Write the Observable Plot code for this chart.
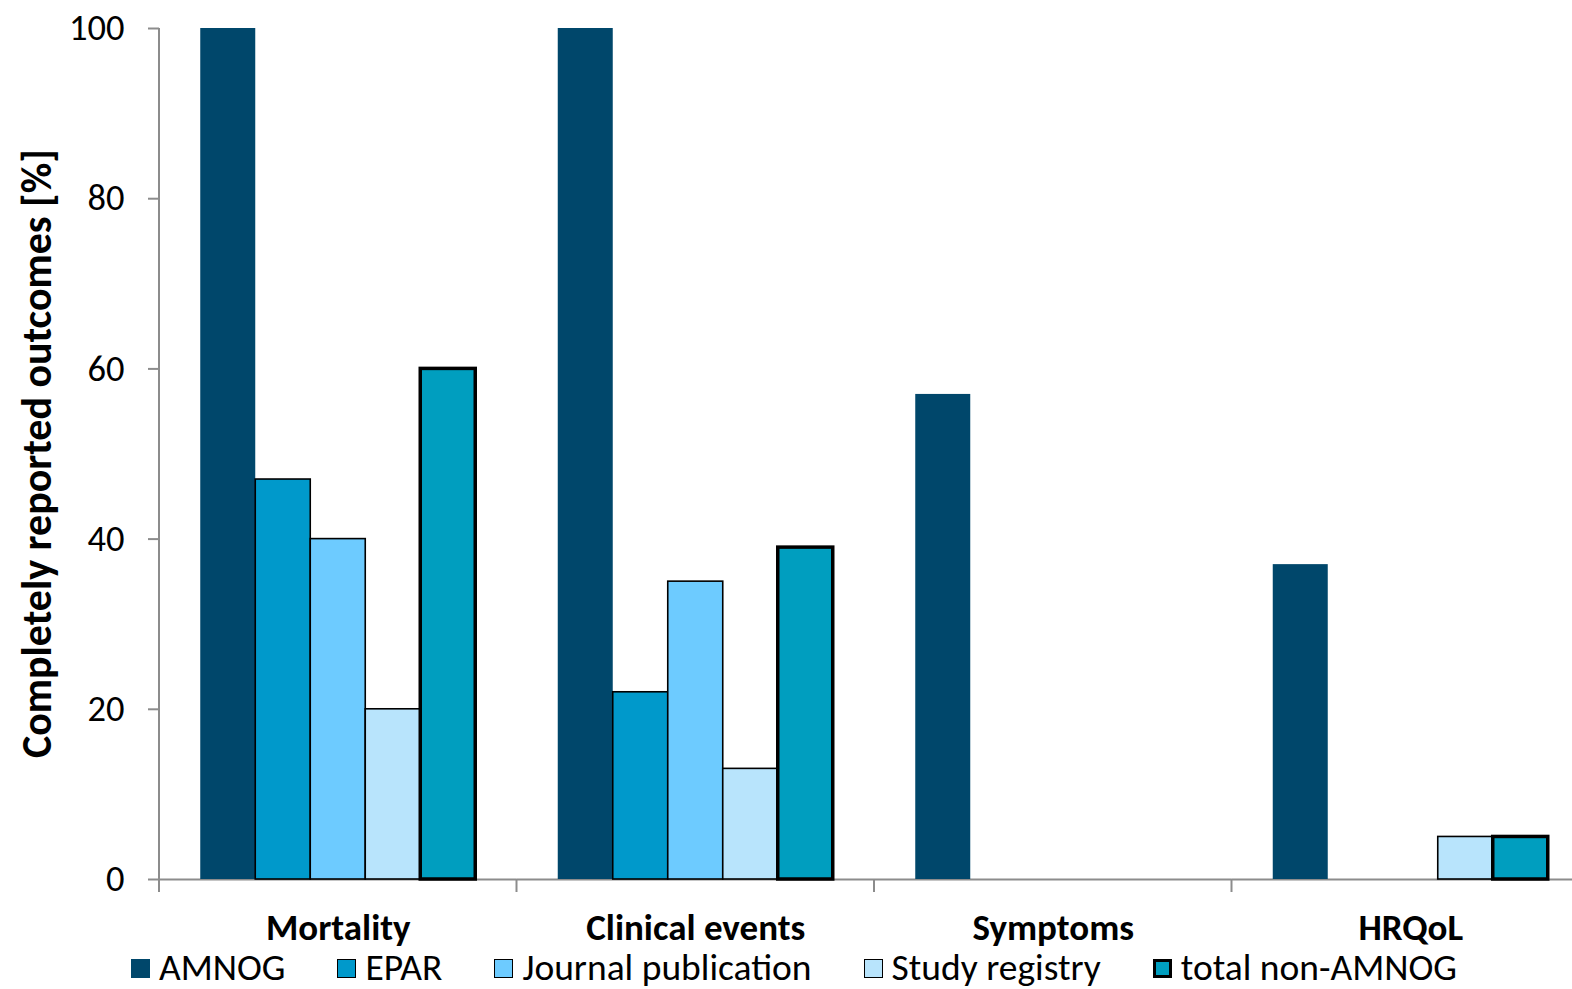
<!DOCTYPE html>
<html>
<head>
<meta charset="utf-8">
<script src="https://cdn.jsdelivr.net/npm/d3@7"></script>
<script src="https://cdn.jsdelivr.net/npm/@observablehq/plot@0.6"></script>
<style>
  html, body { margin: 0; padding: 0; background: #fff; overflow: hidden; }
  body { font-family: Carlito, Calibri, Lato, sans-serif; color: #000; }
  #chart svg { display: block; }
  #legend { display: flex; align-items: center; padding-left: 131px; margin-top: -3px; height: 36px; font-size: 37.5px; }
  .item { display: flex; align-items: center; margin-right: 52px; white-space: nowrap; line-height: 1; }
  .sw { width: 19px; height: 19px; box-sizing: border-box; margin-right: 9px; }
</style>
</head>
<body>
<div id="chart"></div>
<div id="legend"></div>
<script>
// Outcome categories and reporting sources
const categories = ["Mortality", "Clinical events", "Symptoms", "HRQoL"];
const series = ["AMNOG", "EPAR", "Journal publication", "Study registry", "total non-AMNOG"];

// Share of completely reported outcomes [%] per source, one value per category
const amnog         = [100, 100, 57, 37];
const epar          = [47, 22, 0, 0];
const journal       = [40, 35, 0, 0];
const registry      = [20, 13, 0, 5];
const totalNonAmnog = [60, 39, 0, 5];

const yTicks = [0, 20, 40, 60, 80, 100];
const colors = ["#00476B", "#0099CB", "#6DCBFF", "#B8E4FC", "#009EBF"];
const yTitle = "Completely reported outcomes [%]";

const valuesBySeries = [amnog, epar, journal, registry, totalNonAmnog];
const rows = categories.flatMap((cat, i) =>
  series.map((s, j) => ({cat, series: s, value: valuesBySeries[j][i]}))
);

const FONT = "Carlito, Calibri, Lato, sans-serif";
const AXIS_GRAY = "#8c8c8c";
const thinOutlined = new Set(["EPAR", "Journal publication", "Study registry"]);

const plot = Plot.plot({
  width: 1572,
  height: 953,
  marginTop: 28,
  marginBottom: 74,
  marginLeft: 159,
  marginRight: -17,
  style: {fontFamily: FONT, fontSize: "36px", color: "#000", background: "#fff", overflow: "hidden"},
  fx: {domain: categories, padding: 0, round: false, label: null},
  x: {domain: series, paddingInner: 0, paddingOuter: 0.75, round: false, axis: null},
  y: {domain: [0, 100], label: null},
  color: {domain: series, range: colors},
  marks: [
    Plot.ruleY([0], {stroke: AXIS_GRAY, strokeWidth: 2}),
    Plot.barY(rows, {
      filter: (d) => d.series === "AMNOG",
      fx: "cat", x: "series", y: "value", fill: "series"
    }),
    Plot.barY(rows, {
      filter: (d) => thinOutlined.has(d.series) && d.value > 0,
      fx: "cat", x: "series", y: "value", fill: "series",
      stroke: "#000", strokeWidth: 1.6
    }),
    Plot.barY(rows, {
      filter: (d) => d.series === "total non-AMNOG" && d.value > 0,
      fx: "cat", x: "series", y: "value", fill: "series",
      stroke: "#000", strokeWidth: 3.5
    }),
    Plot.axisY({
      ticks: yTicks, tickSize: 11, tickPadding: 24,
      stroke: AXIS_GRAY, strokeWidth: 2, strokeOpacity: 1,
      fill: "#000", fontSize: 36.5, label: null
    }),
    Plot.axisFx({
      anchor: "bottom",
      tickSize: 0, tickPadding: 34, fontSize: 37, fontWeight: "bold",
      fill: "#000", label: null
    })
  ]
});

// Axis line and category boundary ticks, positioned through the plot's scales
const fxScale = plot.scale("fx");
const yScale = plot.scale("y");
const svg = d3.select(plot);
const y0 = yScale.apply(0);
const yTop = yScale.apply(100);
const axes = svg.append("g").attr("stroke", AXIS_GRAY).attr("stroke-width", 2);
const xLeft = fxScale.apply(categories[0]);
axes.append("line").attr("x1", xLeft).attr("x2", xLeft).attr("y1", yTop).attr("y2", y0);
categories.forEach((c) => {
  const x = fxScale.apply(c);
  axes.append("line").attr("x1", x).attr("x2", x).attr("y1", y0).attr("y2", y0 + 13);
});

// Rotated y-axis title
svg.append("text")
  .attr("transform", `translate(51,${(yTop + y0) / 2}) rotate(-90)`)
  .attr("text-anchor", "middle")
  .attr("font-weight", "bold")
  .attr("font-size", 42)
  .attr("fill", "#000")
  .text(yTitle);

document.getElementById("chart").appendChild(plot);

// Legend below the chart
const legend = d3.select("#legend");
series.forEach((s, j) => {
  const item = legend.append("div").attr("class", "item");
  const border = s === "AMNOG" ? "none" : s === "total non-AMNOG" ? "3px solid #000" : "1.5px solid #000";
  item.append("div").attr("class", "sw")
    .style("background", colors[j])
    .style("border", border);
  item.append("span").text(s);
});
</script>
</body>
</html>
